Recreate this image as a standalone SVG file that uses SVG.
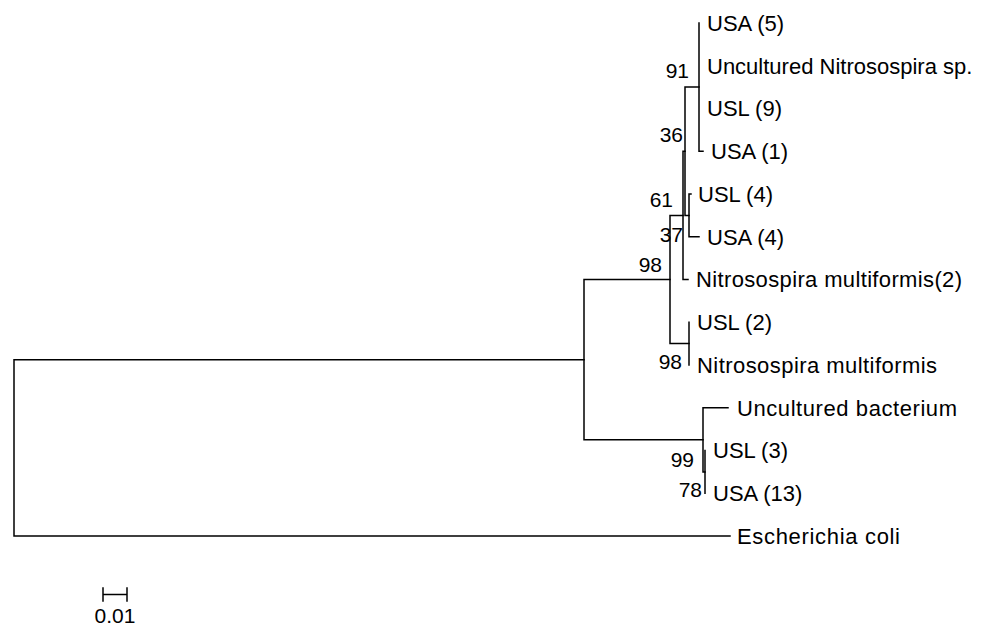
<svg xmlns="http://www.w3.org/2000/svg" width="987" height="626" viewBox="0 0 987 626">
<style>
.t{font-family:"Liberation Sans",Arial,sans-serif;font-size:22px;fill:#000}
.b{font-family:"Liberation Sans",Arial,sans-serif;font-size:21px;fill:#000;text-anchor:end}
.e{fill:none;stroke:#000;stroke-width:1.5;stroke-linecap:square}
</style>
<rect width="987" height="626" fill="#fff"/>
<g id="connectors">
<path class="e" d="M584,359.7 H14 V536 H730"/>
<path class="e" d="M670,279.5 H584 V439.8 H703"/>
<path class="e" d="M683,215.4 H670 V343.6 H689"/>
<path class="e" d="M685,151.25 H683 V279.5 H688"/>
<path class="e" d="M699,87.1 H685 V215.4 H689"/>
<path class="e" d="M699,23 V151.25 H703"/>
<path class="e" d="M691,194 H689 V236.75 H699"/>
<path class="e" d="M689,322.25 V365"/>
<path class="e" d="M728,407.75 H703 V471.9 H705"/>
<path class="e" d="M705,450.5 V493.25"/>
<path class="e" d="M103,588 V601 M103,594.5 H127 M127,588 V601"/>
</g>
<g id="leaf-usa5"><text class="t" x="707" y="30.8">USA (5)</text></g>
<g id="leaf-uncultured-nitrosospira"><text class="t" x="707" y="73.5">Uncultured Nitrosospira sp.</text></g>
<g id="leaf-usl9"><text class="t" x="707" y="116.3">USL (9)</text></g>
<g id="leaf-usa1"><text class="t" x="711" y="159">USA (1)</text></g>
<g id="leaf-usl4"><text class="t" x="698" y="201.8">USL (4)</text></g>
<g id="leaf-usa4"><text class="t" x="707" y="244.5">USA (4)</text></g>
<g id="leaf-nm2"><text class="t" x="696" y="287.3" textLength="266" lengthAdjust="spacing">Nitrosospira multiformis(2)</text></g>
<g id="leaf-usl2"><text class="t" x="697" y="330">USL (2)</text></g>
<g id="leaf-nm"><text class="t" x="697" y="372.8" textLength="240" lengthAdjust="spacing">Nitrosospira multiformis</text></g>
<g id="leaf-uncultured-bacterium"><text class="t" x="737" y="415.5" textLength="220" lengthAdjust="spacing">Uncultured bacterium</text></g>
<g id="leaf-usl3"><text class="t" x="713" y="458.3">USL (3)</text></g>
<g id="leaf-usa13"><text class="t" x="713" y="501">USA (13)</text></g>
<g id="leaf-ecoli"><text class="t" x="737" y="543.8" textLength="163" lengthAdjust="spacing">Escherichia coli</text></g>
<g id="bootstrap">
<text class="b" x="689" y="78">91</text>
<text class="b" x="683" y="142">36</text>
<text class="b" x="673" y="207">61</text>
<text class="b" x="683" y="242">37</text>
<text class="b" x="662" y="272">98</text>
<text class="b" x="682" y="369">98</text>
<text class="b" x="694" y="467">99</text>
<text class="b" x="702" y="497">78</text>
</g>
<g id="scale"><text class="b" x="115" y="623" style="text-anchor:middle">0.01</text></g>
</svg>
